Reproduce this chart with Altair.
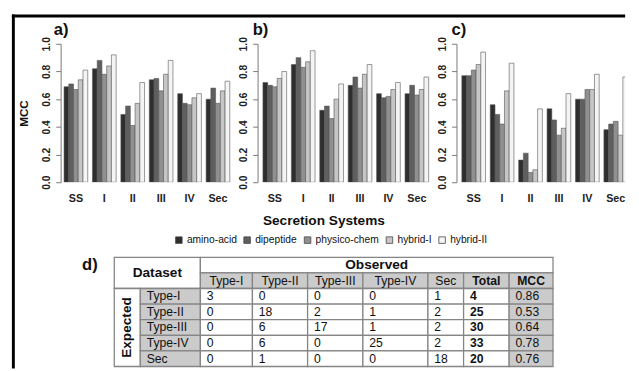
import altair as alt
import pandas as pd

systems = ["SS", "I", "II", "III", "IV", "Sec"]
methods = ["amino-acid", "dipeptide", "physico-chem", "hybrid-I", "hybrid-II"]
panel_labels = ["a)", "b)", "c)"]

# panel a
a_amino = [0.69, 0.82, 0.49, 0.74, 0.64, 0.60]
a_dipep = [0.71, 0.88, 0.55, 0.75, 0.57, 0.68]
a_physi = [0.67, 0.78, 0.41, 0.66, 0.56, 0.57]
a_hyb1 = [0.74, 0.84, 0.57, 0.78, 0.61, 0.66]
a_hyb2 = [0.81, 0.92, 0.72, 0.88, 0.64, 0.73]
# panel b
b_amino = [0.72, 0.85, 0.52, 0.70, 0.64, 0.64]
b_dipep = [0.70, 0.90, 0.55, 0.76, 0.61, 0.70]
b_physi = [0.69, 0.83, 0.46, 0.68, 0.62, 0.63]
b_hyb1 = [0.75, 0.87, 0.60, 0.78, 0.67, 0.67]
b_hyb2 = [0.80, 0.95, 0.71, 0.85, 0.72, 0.76]
# panel c
c_amino = [0.77, 0.56, 0.16, 0.53, 0.60, 0.38]
c_dipep = [0.77, 0.49, 0.21, 0.45, 0.60, 0.42]
c_physi = [0.81, 0.42, 0.07, 0.34, 0.67, 0.44]
c_hyb1 = [0.85, 0.66, 0.09, 0.39, 0.67, 0.34]
c_hyb2 = [0.94, 0.86, 0.53, 0.64, 0.78, 0.76]

# table d
tbl_types = ["Type-I", "Type-II", "Type-III", "Type-IV", "Sec"]
row_type1 = [3, 0, 0, 0, 1]
row_type2 = [0, 18, 2, 1, 2]
row_type3 = [0, 6, 17, 1, 2]
row_type4 = [0, 6, 0, 25, 2]
row_sec = [0, 1, 0, 0, 18]
totals = [4, 25, 30, 33, 20]
mcc_vals = ["0.86", "0.53", "0.64", "0.78", "0.76"]

# ---- styles / layout ----
bar_colors = ["#2e2e2e", "#5f5f5f", "#909090", "#c6c6c6", "#f4f4f4"]
FONT = "Liberation Sans"
PW, PH = 177, 142
VW = 178


def long_df(series):
    rows = []
    for m, vals in zip(methods, series):
        for s, v in zip(systems, vals):
            rows.append({"system": s, "method": m, "value": v})
    return pd.DataFrame(rows)


def panel(df, idx, view_w, legend, extra, axis_offset):
    yaxis_kw = dict(values=[0, 0.2, 0.4, 0.6, 0.8, 1.0], format=".1f", labelAngle=270,
                    labelAlign="center", labelBaseline="middle", labelFontSize=10.5,
                    labelFontWeight="bold", labelColor="#222", labelPadding=9.5, tickSize=5,
                    tickColor="#777", domainColor="#777", grid=False, offset=axis_offset)
    if idx == 0:
        yaxis = alt.Axis(title="MCC", titleAngle=270, titleX=-38, titleY=PH / 2,
                         titleAlign="center", titleBaseline="middle", titleFontSize=12,
                         titleFontWeight="bold", titleColor="#111", **yaxis_kw)
    else:
        yaxis = alt.Axis(title=None, **yaxis_kw)
    bars = alt.Chart(df).mark_bar(stroke="#555", strokeWidth=0.6, clip=True).encode(
        x=alt.X("system:N", sort=systems,
                scale=alt.Scale(domain=systems, range=[0, PW], paddingInner=0.1667, paddingOuter=0.12),
                axis=alt.Axis(title=None, labelAngle=0, labelFontSize=11, labelFontWeight="bold",
                              labelColor="#222", ticks=False, domain=False, labelPadding=11,
                              labelBaseline="top")),
        xOffset=alt.XOffset("method:N", sort=methods,
                            scale=alt.Scale(domain=methods, paddingInner=0, paddingOuter=0)),
        y=alt.Y("value:Q", scale=alt.Scale(domain=[0, 1], nice=False), axis=yaxis),
        color=alt.Color("method:N", sort=methods,
                        scale=alt.Scale(domain=methods, range=bar_colors), legend=legend),
    )
    lab = alt.Chart(pd.DataFrame({"t": [panel_labels[idx]]})).mark_text(
        align="left", baseline="alphabetic", fontSize=17, fontWeight="bold", color="#111"
    ).encode(x=alt.value(-7), y=alt.value(-9), text="t:N")
    return alt.layer(bars, lab, *extra).properties(width=view_w, height=PH)


one = pd.DataFrame({"k": [0]})
top_rule = alt.Chart(one).mark_rule(color="black", strokeWidth=3).encode(
    x=alt.value(-50), x2=alt.value(579), y=alt.value(-28.5))
left_rule = alt.Chart(one).mark_rule(color="black", strokeWidth=3).encode(
    x=alt.value(-48.5), y=alt.value(-30), y2=alt.value(333))

xtitle = alt.Chart(pd.DataFrame({"t": ["Secretion Systems"]})).mark_text(
    align="center", baseline="middle", fontSize=14, fontWeight="bold", color="#111"
).encode(x=alt.value(66), y=alt.value(182), text="t:N")

legend_b = alt.Legend(title=None, orient="none", legendX=-88, legendY=196, direction="horizontal",
                      symbolType="square", symbolSize=45, symbolStrokeColor="#444",
                      symbolStrokeWidth=0.8, labelFontSize=10.5, labelColor="#111",
                      columnPadding=5, labelOffset=3, padding=0)

pa = panel(long_df([a_amino, a_dipep, a_physi, a_hyb1, a_hyb2]), 0, VW, None,
           [top_rule, left_rule], 0)
pb = panel(long_df([b_amino, b_dipep, b_physi, b_hyb1, b_hyb2]), 1, VW, legend_b, [xtitle], 2)
pc = panel(long_df([c_amino, c_dipep, c_physi, c_hyb1, c_hyb2]), 2, 171, None, [], 2)

# ---- table ----
col_w = [26.7, 61.6, 53.4, 56.6, 56.7, 66.7, 36.6, 46.7, 45.0]
TX0 = 55
ROW_H = 16
PAD = 6.5
edges = [TX0]
for w in col_w:
    edges.append(edges[-1] + w)
GRAY = "#cbcbcb"
cells = []


def add(c0, c1, r0, r1, label, fill, style, fs=12.5, ang=0):
    x0, x1 = edges[c0], edges[c1 + 1]
    y0, y1 = r0 * ROW_H, (r1 + 1) * ROW_H
    tx = x0 + PAD if style.endswith("l") else (x0 + x1) / 2
    cells.append({"x0": x0, "x1": x1, "y0": y0, "y1": y1, "label": label, "fill": fill,
                  "style": style, "tx": tx, "ty": (y0 + y1) / 2, "fs": fs, "ang": ang})


add(0, 1, 0, 1, "Dataset", "white", "bc", 14)
add(2, 8, 0, 0, "Observed", "white", "bc", 14)
for j, t in enumerate(tbl_types):
    add(2 + j, 2 + j, 1, 1, t, GRAY, "nc")
add(7, 7, 1, 1, "Total", GRAY, "bc")
add(8, 8, 1, 1, "MCC", GRAY, "bc")
add(0, 0, 2, 6, "Expected", "white", "bc", 14, 270)
matrix = [row_type1, row_type2, row_type3, row_type4, row_sec]
for i, t in enumerate(tbl_types):
    add(1, 1, 2 + i, 2 + i, t, GRAY, "nl")
    for j, v in enumerate(matrix[i]):
        add(2 + j, 2 + j, 2 + i, 2 + i, str(v), "white", "nl")
    add(7, 7, 2 + i, 2 + i, str(totals[i]), "white", "bl")
    add(8, 8, 2 + i, 2 + i, mcc_vals[i], GRAY, "nl")
cells_df = pd.DataFrame(cells)

TW, TH = 520, 112
xs = alt.Scale(domain=[0, TW], range=[0, TW], nice=False, zero=False)
ys = alt.Scale(domain=[0, TH], nice=False, zero=False, reverse=True)
tbase = alt.Chart(cells_df)
rects = tbase.mark_rect(stroke="#858585", strokeWidth=1.3).encode(
    x=alt.X("x0:Q", scale=xs, axis=None), x2="x1:Q",
    y=alt.Y("y0:Q", scale=ys, axis=None), y2="y1:Q",
    fill=alt.Fill("fill:N", scale=None))


def tlayer(style, weight, align):
    return tbase.transform_filter(alt.datum.style == style).mark_text(
        align=align, baseline="middle", fontWeight=weight, color="#111"
    ).encode(x=alt.X("tx:Q", scale=xs, axis=None), y=alt.Y("ty:Q", scale=ys, axis=None),
             text="label:N", size=alt.Size("fs:Q", scale=None),
             angle=alt.Angle("ang:Q", scale=None))


dlab = alt.Chart(pd.DataFrame({"t": ["d)"]})).mark_text(
    align="left", baseline="alphabetic", fontSize=17, fontWeight="bold", color="#111"
).encode(x=alt.value(22), y=alt.value(13), text="t:N")

table = alt.layer(rects, tlayer("nl", "normal", "left"), tlayer("nc", "normal", "center"),
                  tlayer("bl", "bold", "left"), tlayer("bc", "bold", "center"), dlab
                  ).properties(width=PW, height=TH)

chart = alt.concat(pa, pb, pc, table, columns=3, spacing={"row": 77, "column": 26},
                   bounds="flush").resolve_legend(color="independent").properties(
    padding={"left": 2, "top": 0, "right": 0, "bottom": 0}
).configure(font=FONT).configure_view(strokeWidth=0)

chart.save("out.html", embed_options={"renderer": "svg", "actions": False})
